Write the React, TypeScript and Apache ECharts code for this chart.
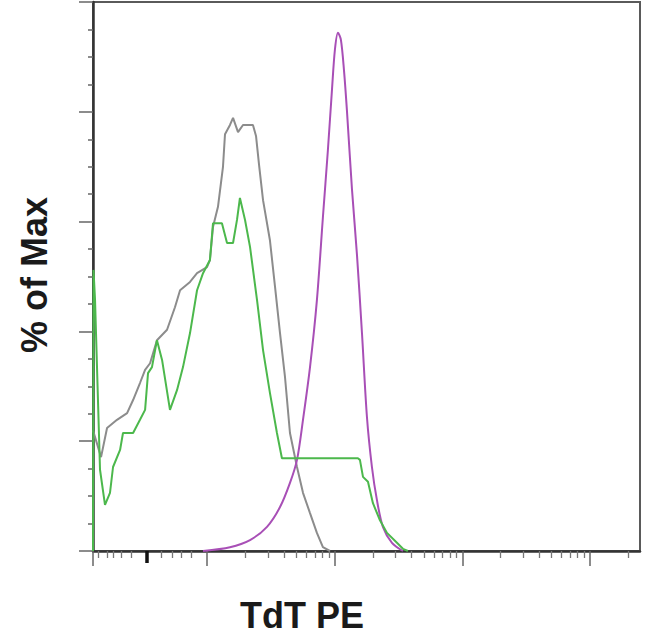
import React, { useEffect, useRef } from "react";
import * as echarts from "echarts";

// x values are in display decades (log10 of TdT PE intensity, biexponential region below 10^2)
// y values are % of Max

const grayX = [1.107, 1.17, 1.217, 1.295, 1.374, 1.421, 1.475, 1.515, 1.554, 1.608, 1.687, 1.749, 1.789, 1.867, 1.922, 2.0, 2.023, 2.047, 2.086, 2.125, 2.141, 2.18, 2.204, 2.243, 2.282, 2.36, 2.384, 2.408, 2.439, 2.493, 2.533, 2.572, 2.611, 2.65, 2.705, 2.752, 2.807, 2.861, 2.908, 2.963];
const grayY = [22.0, 17.1, 22.4, 23.9, 25.1, 27.5, 30.6, 33.0, 34.2, 38.4, 40.3, 44.4, 47.5, 49.0, 50.6, 51.7, 53.0, 59.0, 62.7, 69.9, 75.9, 77.6, 78.9, 76.3, 77.6, 77.6, 75.6, 70.3, 63.9, 56.6, 48.1, 39.7, 31.7, 21.5, 15.3, 10.6, 6.9, 3.3, 0.7, 0];

const greenX = [1.107, 1.111, 1.123, 1.162, 1.201, 1.24, 1.264, 1.319, 1.342, 1.421, 1.475, 1.515, 1.538, 1.569, 1.608, 1.648, 1.71, 1.765, 1.812, 1.867, 1.922, 1.969, 2.023, 2.047, 2.117, 2.157, 2.204, 2.235, 2.258, 2.298, 2.337, 2.392, 2.439, 2.493, 2.548, 2.587, 3.182, 3.198, 3.222, 3.261, 3.3, 3.355, 3.41, 3.488, 3.535, 3.574];
const greenY = [0, 51.2, 45.7, 14.8, 8.4, 10.6, 15.3, 18.4, 21.5, 21.5, 23.9, 25.7, 32.4, 33.5, 38.4, 34.8, 25.7, 29.3, 33.5, 39.7, 47.5, 50.6, 53.0, 59.7, 59.7, 56.1, 56.1, 60.3, 64.3, 60.3, 55.4, 45.7, 36.6, 28.8, 21.5, 16.9, 16.9, 16.6, 13.5, 12.6, 8.7, 5.6, 3.3, 1.5, 0.4, 0];

const purpleX = [1.969, 2.18, 2.337, 2.47, 2.572, 2.65, 2.705, 2.752, 2.807, 2.861, 2.908, 2.947, 2.979, 3.002, 3.026, 3.049, 3.073, 3.096, 3.136, 3.175, 3.214, 3.253, 3.292, 3.331, 3.378, 3.449, 3.535];
const purpleY = [0, 0.7, 2.0, 4.4, 8.0, 12.4, 16.6, 23.9, 33.5, 45.7, 60.8, 73.0, 84.0, 91.3, 94.4, 93.1, 87.6, 80.3, 65.8, 53.9, 39.7, 24.4, 15.3, 9.3, 4.4, 1.5, 0];

const xMin = 1.107;
const xMax = 5.392;
const majorTicks = [1.107, 2, 3, 4, 5];
const lowMinorTicks = [1.146, 1.215, 1.264, 1.332, 1.41, 1.645, 1.724, 1.802, 1.88];
const decades = [2, 3, 4];
const multipliers = [2, 3, 4, 5, 6, 7, 8, 9];
const extraMinorTicks = [5.301];
const markerTick = [1.528];

const xLabel = "TdT PE";
const yLabel = "% of Max";

const pairs = (xs: number[], ys: number[]) => xs.map((x, i) => [x, ys[i]]);

export default function App() {
  const ref = useRef<HTMLDivElement>(null);
  useEffect(() => {
    if (!ref.current) return;
    const chart = echarts.init(ref.current, undefined, { renderer: "svg" });
    const logMinor: number[] = [];
    decades.forEach((d) => multipliers.forEach((m) => logMinor.push(d + Math.log10(m))));
    const minorTicks = [...lowMinorTicks, ...logMinor, ...extraMinorTicks];
    const font = '"Liberation Sans", Arial, Helvetica, sans-serif';
    const baseX = {
      type: "value",
      min: xMin,
      max: xMax,
      position: "bottom",
      splitLine: { show: false },
      axisLabel: { show: false },
    };
    chart.setOption({
      animation: false,
      backgroundColor: "#ffffff",
      grid: {
        left: 93,
        right: 10,
        top: 2,
        bottom: 84,
        show: true,
        borderColor: "#5a5a5a",
        borderWidth: 2,
        backgroundColor: "transparent",
      },
      xAxis: [
        {
          ...baseX,
          axisLine: { show: true, onZero: false, lineStyle: { color: "#333", width: 2.5 } },
          axisTick: { show: true, length: 15, customValues: majorTicks, lineStyle: { color: "#666", width: 1.5 } },
        },
        {
          ...baseX,
          axisLine: { show: false },
          axisTick: { show: true, length: 7, customValues: minorTicks, lineStyle: { color: "#777", width: 1.3 } },
        },
        {
          ...baseX,
          axisLine: { show: false },
          axisTick: { show: true, length: 12, customValues: markerTick, lineStyle: { color: "#111", width: 3.5 } },
        },
      ],
      yAxis: {
        type: "value",
        min: 0,
        max: 100,
        interval: 20,
        splitLine: { show: false },
        axisLabel: { show: false },
        axisLine: { show: true, onZero: false, lineStyle: { color: "#333", width: 2.5 } },
        axisTick: { show: true, length: 14, lineStyle: { color: "#666", width: 1.5 } },
        minorTick: { show: true, splitNumber: 4, length: 5, lineStyle: { color: "#666", width: 1.5 } },
      },
      series: [
        {
          type: "line",
          data: pairs(grayX, grayY),
          symbol: "none",
          lineStyle: { color: "#8c8c8c", width: 2 },
          z: 3,
        },
        {
          type: "line",
          data: pairs(purpleX, purpleY),
          symbol: "none",
          smooth: 0.3,
          lineStyle: { color: "#a84fb6", width: 2 },
          z: 4,
        },
        {
          type: "line",
          data: pairs(greenX, greenY),
          symbol: "none",
          lineStyle: { color: "#4cb84c", width: 2 },
          z: 5,
        },
      ],
      graphic: [
        {
          type: "text",
          x: 34,
          y: 275,
          rotation: Math.PI / 2,
          style: {
            text: yLabel,
            font: `bold 36px ${font}`,
            fill: "#1a1a1a",
            align: "center",
            verticalAlign: "middle",
          },
        },
        {
          type: "text",
          x: 302,
          y: 615,
          style: {
            text: xLabel,
            font: `bold 36px ${font}`,
            fill: "#1a1a1a",
            align: "center",
            verticalAlign: "middle",
          },
        },
      ],
    });
    return () => chart.dispose();
  }, []);
  return (
    <div
      ref={ref}
      style={{ position: "fixed", left: 0, top: 0, width: 650, height: 635, background: "#fff" }}
    />
  );
}
